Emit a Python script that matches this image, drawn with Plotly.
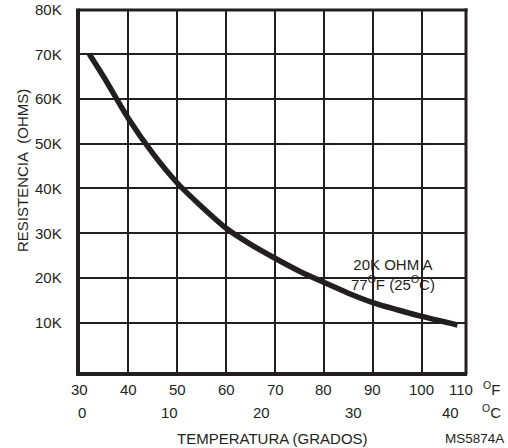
import plotly.graph_objects as go

# ---- data ----
TEMP_F = [32, 35, 40, 45, 50, 55, 60, 65, 70, 75, 80, 85, 90, 95, 100, 107.3]
RES_OHM = [70000, 64800, 55600, 47800, 41200, 35900, 31100, 27500, 24400,
           21500, 19000, 16600, 14500, 12900, 11400, 9500]

F_TICKS = [30, 40, 50, 60, 70, 80, 90, 100, 110]
C_LABELS = ["0", "10", "20", "30", "40"]
C_AT_F = [30.5, 48.5, 67.3, 86.0, 105.8]   # where the °C labels sit on the °F scale
Y_TICKS = [10000, 20000, 30000, 40000, 50000, 60000, 70000, 80000]
Y_TICKTEXT = ["10K", "20K", "30K", "40K", "50K", "60K", "70K", "80K"]

X_RANGE = [29.7, 109.05]
Y_RANGE = [-1450, 79830]

# ---- layout geometry (pixels) ----
WIDTH, HEIGHT = 508, 448
L, R, T, B = 78, 466, 10, 374
PW, PH = R - L, B - T
INK = "#231f20"
FONT = "Liberation Sans, Arial, sans-serif"


def pxx(p):
    return (p - L) / PW


def pxy(p):
    return (B - p) / PH


def val_to_paper_y(v):
    return (v - Y_RANGE[0]) / (Y_RANGE[1] - Y_RANGE[0])


fig = go.Figure()
fig.add_trace(go.Scatter(
    x=TEMP_F, y=RES_OHM, mode="lines",
    line=dict(color=INK, width=5.5, shape="spline", smoothing=0.8),
    hoverinfo="skip", showlegend=False,
))

shapes = []
# white box behind the label (above grid, below curve)
shapes.append(dict(type="rect", xref="paper", yref="paper",
                   x0=pxx(340), x1=pxx(447), y0=pxy(293), y1=pxy(249),
                   fillcolor="white", line=dict(width=0), layer="below"))
# frame
shapes.append(dict(type="line", xref="paper", yref="paper", x0=0, x1=0, y0=-0.004, y1=1.004,
                   line=dict(color=INK, width=4)))
shapes.append(dict(type="line", xref="paper", yref="paper", x0=-0.004, x1=1.003, y0=0, y1=0,
                   line=dict(color=INK, width=4)))
shapes.append(dict(type="line", xref="paper", yref="paper", x0=1, x1=1, y0=0, y1=1.004,
                   line=dict(color=INK, width=3)))
shapes.append(dict(type="line", xref="paper", yref="paper", x0=0, x1=1.004, y0=1, y1=1,
                   line=dict(color=INK, width=3)))

ann = []
tf = dict(family=FONT, size=15, color=INK)
# y tick labels (paper coords so the top one is not hidden at the range edge)
for v, t in zip(Y_TICKS, Y_TICKTEXT):
    ann.append(dict(x=pxx(64), xref="paper", y=val_to_paper_y(v), yref="paper", text=t,
                    showarrow=False, xanchor="right", yanchor="middle", font=tf))
# °F tick labels
for v in F_TICKS:
    ann.append(dict(x=min(v, X_RANGE[1] - 1.05), xref="x", y=pxy(389), yref="paper",
                    text=str(v), showarrow=False, xanchor="center", yanchor="middle", font=tf))
# °C tick labels
for v, t in zip(C_AT_F, C_LABELS):
    ann.append(dict(x=v, xref="x", y=pxy(412), yref="paper", text=t, showarrow=False,
                    xanchor="center", yanchor="middle", font=tf))
# unit labels
ann.append(dict(x=pxx(491), xref="paper", y=pxy(388), yref="paper", text="<sup>O</sup>F",
                showarrow=False, xanchor="center", yanchor="middle", font=tf))
ann.append(dict(x=pxx(491), xref="paper", y=pxy(411), yref="paper", text="<sup>O</sup>C",
                showarrow=False, xanchor="center", yanchor="middle", font=tf))
# axis titles
ann.append(dict(x=pxx(272), xref="paper", y=pxy(438), yref="paper",
                text="TEMPERATURA (GRADOS)", showarrow=False,
                xanchor="center", yanchor="middle", font=tf))
ann.append(dict(x=pxx(475), xref="paper", y=pxy(438), yref="paper",
                text="MS5874A", showarrow=False,
                xanchor="center", yanchor="middle", font=dict(family=FONT, size=13.5, color=INK)))
ann.append(dict(x=pxx(22), xref="paper", y=pxy(171), yref="paper",
                text="RESISTENCIA\u00a0\u00a0(OHMS)", textangle=-90, showarrow=False,
                xanchor="center", yanchor="middle", font=tf))
# curve label
ann.append(dict(x=pxx(393), xref="paper", y=pxy(274), yref="paper",
                text="20K OHM A<br>77<sup>O</sup>F (25<sup>O</sup>C)", showarrow=False,
                xanchor="center", yanchor="middle", align="center", font=tf))

fig.update_layout(
    width=WIDTH, height=HEIGHT,
    margin=dict(l=L, r=WIDTH - R, t=T, b=HEIGHT - B, pad=0),
    paper_bgcolor="white", plot_bgcolor="white",
    shapes=shapes, annotations=ann,
    xaxis=dict(range=X_RANGE, tickvals=F_TICKS[1:-1], showticklabels=False,
               showgrid=True, gridcolor=INK, gridwidth=2, zeroline=False,
               showline=False, ticks="", fixedrange=True),
    yaxis=dict(range=Y_RANGE, tickvals=Y_TICKS[:-1], showticklabels=False,
               showgrid=True, gridcolor=INK, gridwidth=2, zeroline=False,
               showline=False, ticks="", fixedrange=True),
    font=dict(family=FONT, color=INK),
)

fig.write_html("out.html", config={"displayModeBar": False},
               post_script="document.body.style.margin='0px';")
